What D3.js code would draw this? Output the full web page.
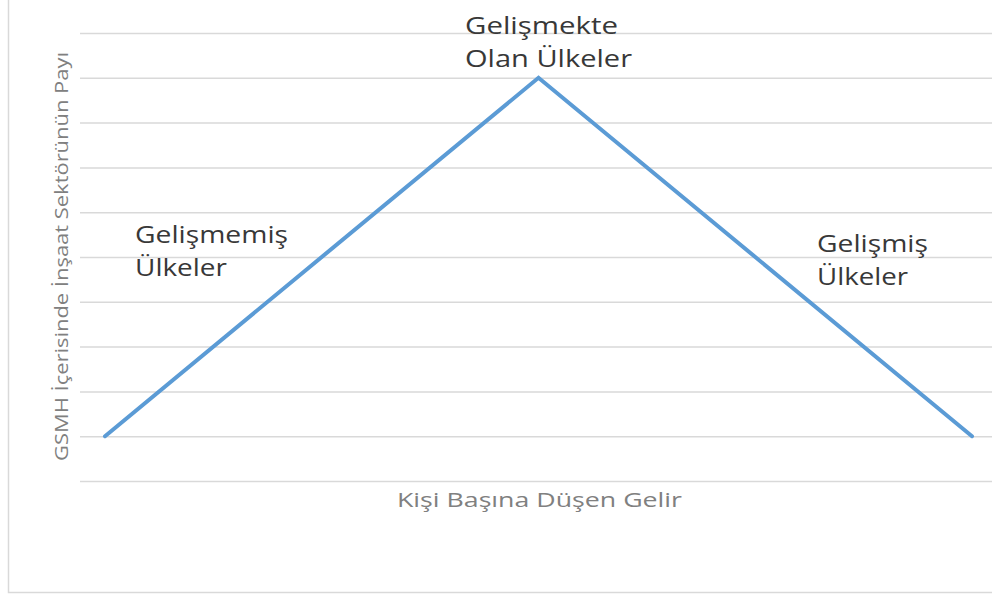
<!DOCTYPE html>
<html><head><meta charset="utf-8">
<script src="https://cdn.jsdelivr.net/npm/d3@7"></script>
<style>html,body{margin:0;padding:0;background:#fff;overflow:hidden;}svg{display:block;}</style>
</head><body>
<svg id="c" width="992" height="596"></svg>
<script>
const categories = ["Gelişmemiş Ülkeler", "Gelişmekte Olan Ülkeler", "Gelişmiş Ülkeler"];
const values = [1, 9, 1];
const yTicks = [0, 1, 2, 3, 4, 5, 6, 7, 8, 9, 10];
const labelLines = [["Gelişmemiş", "Ülkeler"], ["Gelişmekte", "Olan Ülkeler"], ["Gelişmiş", "Ülkeler"]];
const xTitle = "Kişi Başına Düşen Gelir";
const yTitle = "GSMH İçerisinde İnşaat Sektörünün Payı";

const svg = d3.select("#c");
const x = d3.scalePoint().domain(categories).range([105, 972]);
const y = d3.scaleLinear().domain([0, 10]).range([481, 33]);

// outer border (left and bottom)
svg.append("path").attr("d", "M8.5,0 V592.5 H992").attr("fill", "none").attr("stroke", "#d9d9d9").attr("stroke-width", 1.5);

// gridlines
const yAxis = d3.axisLeft(y).tickValues(yTicks).tickSize(-(992 - 80)).tickFormat("");
const g = svg.append("g").attr("transform", "translate(80,0)").call(yAxis);
g.select(".domain").remove();
g.selectAll(".tick line").attr("stroke", "#d9d9d9").attr("stroke-width", 1.5);

// line
const line = d3.line().x((d, i) => x(categories[i])).y(d => y(d));
svg.append("path").datum(values).attr("d", line)
  .attr("fill", "none").attr("stroke", "#5b9bd5").attr("stroke-width", 4)
  .attr("stroke-linecap", "round").attr("stroke-linejoin", "miter");

// labels
const labelSpec = [
  {x: 135, y: 243, widths: [153, 92]},
  {x: 465, y: 34, widths: [153, 167]},
  {x: 817, y: 252, widths: [111, 91]}
];
labelLines.forEach((lines, i) => {
  const s = labelSpec[i];
  lines.forEach((t, j) => {
    svg.append("text").attr("x", s.x).attr("y", s.y + j * 33)
      .attr("font-family", "'Open Sans', sans-serif").attr("font-size", 23)
      .attr("fill", "#383838").attr("textLength", s.widths[j]).attr("lengthAdjust", "spacingAndGlyphs")
      .text(t);
  });
});

// axis titles
svg.append("text").attr("x", 397).attr("y", 507)
  .attr("font-family", "'Open Sans', sans-serif").attr("font-size", 20)
  .attr("fill", "#808080").attr("textLength", 285).attr("lengthAdjust", "spacingAndGlyphs")
  .text(xTitle);
svg.append("text").attr("transform", "translate(68,461) rotate(-90)")
  .attr("font-family", "'Open Sans', sans-serif").attr("font-size", 19)
  .attr("fill", "#808080").attr("textLength", 409).attr("lengthAdjust", "spacingAndGlyphs")
  .text(yTitle);
</script>
</body></html>
